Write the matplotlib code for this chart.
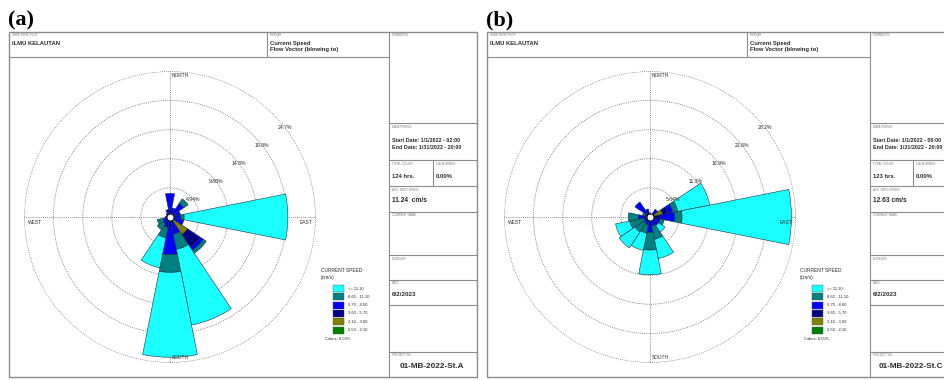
import numpy as np
import matplotlib.pyplot as plt
from matplotlib.patches import Rectangle

plt.rcParams['font.family'] = ['Liberation Sans', 'DejaVu Sans']

W, H = 945, 380

# 16 compass directions (flow vector, blowing to)
directions = ['N', 'NNE', 'NE', 'ENE', 'E', 'ESE', 'SE', 'SSE',
              'S', 'SSW', 'SW', 'WSW', 'W', 'WNW', 'NW', 'NNW']
theta_deg = np.arange(16) * 22.5

speed_bins = ['0.50 - 2.10', '2.10 - 3.60', '3.60 - 5.70',
              '5.70 - 8.60', '8.60 - 11.10', '>= 11.10']
bin_colors = ['#008000', '#808000', '#000080', '#0000ff', '#008080', '#19ffff']

# station A, % frequency per speed class, N .. NNW
stA_050_210 = [0, 0, 0, 0, 0, 0, 0, 0, 0, 0, 0, 0, 0, 0, 0, 0]
stA_210_360 = [0, 0, 0, 0, 0, 0, 3.6, 0, 0.3, 0, 0, 0, 0, 0, 0, 0]
stA_360_570 = [1.2, 0.4, 0.8, 0.8, 0.8, 0.8, 2.6, 0.8, 1.5, 0.8, 0.6, 0.4, 0.3, 0.2, 0.3, 0.5]
stA_570_860 = [2.8, 1.2, 2.0, 1.0, 1.0, 1.6, 0.6, 2.2, 4.6, 1.0, 0.8, 0.8, 0.5, 0.4, 0.5, 0.8]
stA_860_1110 = [0, 0, 0.9, 0, 0.6, 0, 0.6, 2.6, 3.0, 1.8, 1.2, 1.0, 0, 0, 0, 0]
stA_1110_up = [0, 0, 0, 0, 17.6, 0, 0, 13.1, 14.4, 5.2, 0, 0, 0, 0, 0, 0]
stA_rings = [4.94, 9.88, 14.8, 19.8, 24.7]
stA_ring_labels = ['4.94%', '9.88%', '14.8%', '19.8%', '24.7%']

# station C
stC_050_210 = [0, 0, 0, 0, 0, 0, 0, 0, 0, 0, 0, 0, 0, 0, 0, 0]
stC_210_360 = [0, 0, 0, 2.5, 0.5, 0, 0, 0, 0, 0, 0, 0, 0, 0, 0, 0]
stC_360_570 = [0.3, 0.6, 0.8, 1.0, 1.5, 0.8, 0.8, 0.6, 1.0, 0.6, 0.5, 0.6, 1.0, 0.4, 1.2, 0.6]
stC_570_860 = [0.5, 0, 1.0, 1.0, 2.8, 1.2, 1.2, 1.2, 2.0, 1.0, 0.8, 0.6, 1.2, 0.6, 2.3, 1.0]
stC_860_1110 = [0, 0, 0, 1.0, 1.4, 0.8, 0, 2.6, 3.4, 1.6, 2.2, 2.8, 2.0, 0.5, 0, 0]
stC_1110_up = [0, 0, 0, 6.3, 21.2, 0, 1.5, 3.8, 4.8, 3.4, 3.7, 2.8, 0, 0, 0, 0]
stC_rings = [5.64, 11.3, 16.9, 22.6, 28.2]
stC_ring_labels = ['5.64%', '11.3%', '16.9%', '22.6%', '28.2%']

fig = plt.figure(figsize=(W / 100, H / 100), dpi=100)
canvas = fig.add_axes([0, 0, 1, 1])
canvas.set_xlim(0, W)
canvas.set_ylim(H, 0)
canvas.axis('off')

LINE = '#8c8c8c'
TXT = '#2a2a2a'
TINY = '#7a7a7a'


def hline(y, x0, x1):
    canvas.plot([x0, x1], [y, y], color=LINE, lw=0.8)


def vline(x, y0, y1):
    canvas.plot([x, x], [y0, y1], color=LINE, lw=0.8)


def tiny(x, y, s):
    canvas.text(x, y, s, fontsize=2.2, color=TINY, va='center', ha='left')


def draw_frame(x0, x1, xdiv, xcol, xsplit, tag, dates, count, speed,
               project, px):
    canvas.text(x0 - 1, 20, tag, fontsize=16, fontweight='bold',
                family='Liberation Serif', va='center', ha='left')
    canvas.add_patch(Rectangle((x0, 32), x1 - x0, 345, fill=False,
                               ec=LINE, lw=1.0))
    hline(57, x0, xcol)
    vline(xdiv, 32, 57)
    vline(xcol, 32, 377)
    for y in [123, 160, 186, 212, 255, 280, 305, 352]:
        hline(y, xcol, x1)
    vline(xsplit, 160, 186)

    tiny(x0 + 3, 35.5, 'WIND ROSE PLOT:')
    canvas.text(x0 + 3, 43.5, 'ILMU KELAUTAN', fontsize=4.2,
                fontweight='bold', color=TXT, va='center')
    tiny(xdiv + 3, 35.5, 'DISPLAY:')
    canvas.text(xdiv + 3, 43, 'Current Speed', fontsize=4.2,
                fontweight='bold', color=TXT, va='center')
    canvas.text(xdiv + 3, 50, 'Flow Vector (blowing to)', fontsize=4.2,
                fontweight='bold', color=TXT, va='center')

    cx = xcol + 3
    tiny(cx, 35.5, 'COMMENTS:')
    tiny(cx, 127, 'DATA PERIOD:')
    canvas.text(cx, 141, dates[0], fontsize=3.9, fontweight='bold',
                color=TXT, va='center')
    canvas.text(cx, 147.5, dates[1], fontsize=3.9, fontweight='bold',
                color=TXT, va='center')
    tiny(cx, 164, 'TOTAL COUNT:')
    tiny(xsplit + 3, 164, 'CALM WINDS:')
    canvas.text(cx, 176, count, fontsize=4.2, fontweight='bold',
                color=TXT, va='center')
    canvas.text(xsplit + 3, 176, '0.00%', fontsize=4.2, fontweight='bold',
                color=TXT, va='center')
    tiny(cx, 190, 'AVG. WIND SPEED:')
    canvas.text(cx, 200, speed, fontsize=4.8, fontweight='bold',
                color=TXT, va='center')
    tiny(cx, 215.5, 'COMPANY NAME:')
    tiny(cx, 258.5, 'MODELER:')
    tiny(cx, 283.5, 'DATE:')
    canvas.text(cx, 295, '6/2/2023', fontsize=4.5, fontweight='bold',
                color=TXT, va='center')
    tiny(cx, 355.5, 'PROJECT NO.:')
    canvas.text(px, 367, project, fontsize=5.9, fontweight='bold',
                color=TXT, va='center', ha='left')


def draw_legend(lx):
    canvas.text(lx, 270, 'CURRENT SPEED', fontsize=3.5, color=TXT, va='center')
    canvas.text(lx, 278, '(cm/s)', fontsize=3.5, color=TXT, va='center')
    for i, (lab, col) in enumerate(zip(speed_bins[::-1], bin_colors[::-1])):
        y = 288.5 + i * 8.3
        canvas.add_patch(Rectangle((lx + 12, y - 3.5), 11, 7, fc=col,
                                   ec='#555555', lw=0.3))
        canvas.text(lx + 27, y, lab, fontsize=3.0, color=TXT, va='center')
    canvas.text(lx + 4, 339, 'Calms: 0.00%', fontsize=3.0, color=TXT,
                va='center')


def draw_rose(cx, cy, R, bins, rings, ring_labels):
    ax = fig.add_axes([(cx - R) / W, (H - cy - R) / H, 2 * R / W, 2 * R / H],
                      projection='polar')
    ax.patch.set_alpha(0)
    ax.set_theta_zero_location('N')
    ax.set_theta_direction(-1)
    theta = np.radians(theta_deg)
    width = np.radians(22.5)
    bottom = np.zeros(16)
    for vals, col in zip(bins, bin_colors):
        vals = np.array(vals, dtype=float)
        m = vals > 0
        ax.bar(theta[m], vals[m], width=width, bottom=bottom[m], color=col,
               edgecolor='#1c2c3c', linewidth=0.4)
        bottom += vals
    rmax = rings[-1]
    ax.set_ylim(0, rmax * 1.003)
    ax.set_yticks(rings)
    ax.set_yticklabels([])
    ax.set_xticks(np.radians([0, 90, 180, 270]))
    ax.set_xticklabels([])
    ax.grid(True, color='#6f6f6f', linestyle=(0, (1, 1.3)), linewidth=0.6)
    ax.spines['polar'].set_visible(False)
    ax.set_axisbelow(True)
    for r, lab in zip(rings, ring_labels):
        ax.text(np.radians(52), r, lab, fontsize=3.7, color=TXT,
                ha='center', va='center')
    kw = dict(textcoords='offset points', fontsize=3.5, color=TXT)
    ax.annotate('NORTH', xy=(0, rmax * 0.975), xytext=(1.5, 0),
                ha='left', va='center', **kw)
    ax.annotate('SOUTH', xy=(np.pi, rmax * 0.965), xytext=(1.5, 0),
                ha='left', va='center', **kw)
    ax.annotate('EAST', xy=(np.pi / 2, rmax * 0.985), xytext=(-1, -2),
                ha='right', va='top', **kw)
    ax.annotate('WEST', xy=(1.5 * np.pi, rmax * 0.985), xytext=(1, -2),
                ha='left', va='top', **kw)
    ax.plot([0], [0], 'o', ms=5, mfc='white', mec='black', mew=0.6)


draw_frame(9, 477, 267, 389, 433, '(a)',
           ['Start Date: 1/1/2022 - 02:00', 'End Date: 1/31/2022 - 20:00'],
           '124 hrs.', '11.24  cm/s', '01-MB-2022-St.A', 400)
draw_frame(487, 960, 747, 870, 913, '(b)',
           ['Start Date: 1/1/2022 - 08:00', 'End Date: 1/31/2022 - 20:00'],
           '123 hrs.', '12.63 cm/s', '01-MB-2022-St.C', 879)
draw_legend(321)
draw_legend(800)

draw_rose(170, 217, 146,
          [stA_050_210, stA_210_360, stA_360_570, stA_570_860,
           stA_860_1110, stA_1110_up], stA_rings, stA_ring_labels)
draw_rose(650, 217, 146,
          [stC_050_210, stC_210_360, stC_360_570, stC_570_860,
           stC_860_1110, stC_1110_up], stC_rings, stC_ring_labels)

fig.savefig('out.png', dpi=100)
